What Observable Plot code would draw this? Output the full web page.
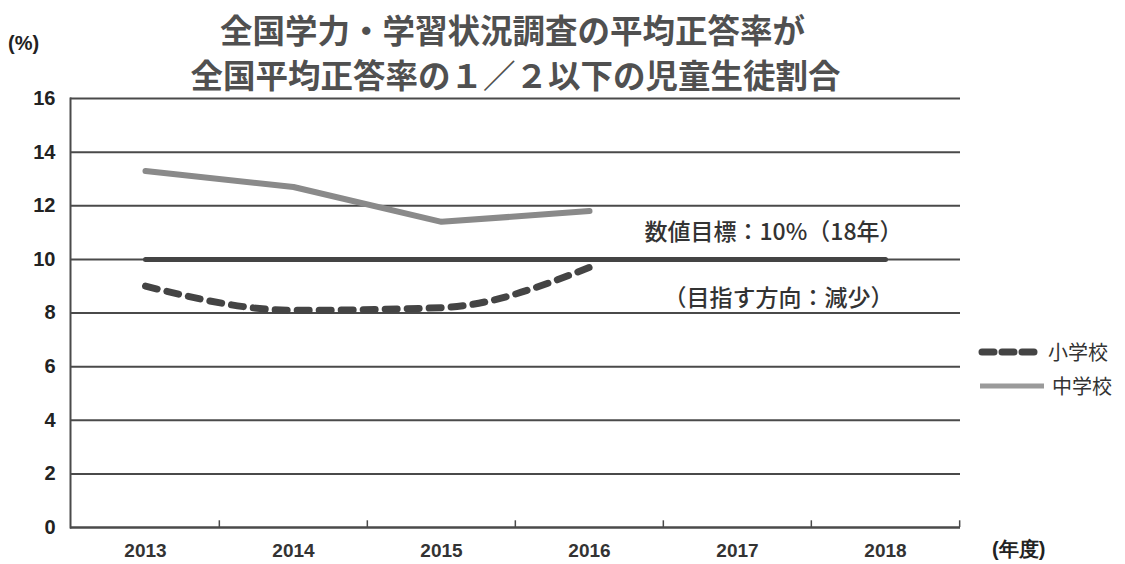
<!DOCTYPE html>
<html><head><meta charset="utf-8">
<script src="https://cdn.jsdelivr.net/npm/d3@7"></script>
<script src="https://cdn.jsdelivr.net/npm/@observablehq/plot@0.6"></script>
<style>
body{margin:0;background:#fff;}
#wrap{position:relative;width:1125px;height:564px;font-family:"Noto Sans CJK JP",sans-serif;}
.lg{position:absolute;left:978px;font-size:20px;color:#333;display:flex;align-items:center;}
.unit{position:absolute;font-family:"Liberation Sans",sans-serif;font-weight:bold;font-size:20px;color:#222;}
g[aria-label="y-axis tick label"] text{font-size:20px !important;}
g[aria-label="x-axis tick label"] text{font-size:19px !important;}
</style></head>
<body><div id="wrap"></div>
<script>
const years = ["2013","2014","2015","2016","2017","2018"];
const yTicks = [0,2,4,6,8,10,12,14,16];
const elemYears = ["2013","2014","2015","2016"];
const elemValues = [9.0, 8.1, 8.2, 9.7];
const juniorYears = ["2013","2014","2015","2016"];
const juniorValues = [13.3, 12.7, 11.4, 11.8];
const targetYears = ["2013","2018"];
const targetValue = 10;
const titleLines = ["全国学力・学習状況調査の平均正答率が","全国平均正答率の１／２以下の児童生徒割合"];
const seriesNames = ["小学校","中学校"];
const noteTarget = "数値目標：10%（18年）";
const noteDirection = "（目指す方向：減少）";
const unitY = "(%)";
const unitX = "(年度)";

const elem = elemYears.map((y,i)=>({year:y, value:elemValues[i]}));
const junior = juniorYears.map((y,i)=>({year:y, value:juniorValues[i]}));
const target = targetYears.map(y=>({year:y, value:targetValue}));

const W=1125, H=564, mL=70, mR=165, mT=98, mB=37;
const step = (W-mL-mR)/years.length;
const numFont = '"Liberation Sans",sans-serif';
const jp = '"Noto Sans CJK JP",sans-serif';

const chart = Plot.plot({
  width: W, height: H,
  marginLeft: mL, marginRight: mR, marginTop: mT, marginBottom: mB,
  style: {fontFamily: numFont, background: "#fff"},
  x: {type: "point", domain: years, padding: 0.5},
  y: {domain: [0,16]},
  marks: [
    Plot.ruleY(yTicks.filter(d=>d>0), {stroke:"#4a4a4a", strokeWidth:2}),
    Plot.ruleY([0], {stroke:"#4a4a4a", strokeWidth:2.5}),
    Plot.frame({anchor:"left", stroke:"#4a4a4a", strokeWidth:2}),
    Plot.ruleX(years.slice(1), {x: d=>d, dx: -step/2, y1: 0, y2: 0.25, stroke:"#4a4a4a", strokeWidth:1.5}),
    Plot.ruleX(["2018"], {x: d=>d, dx: step/2, y1: 0, y2: 0.25, stroke:"#4a4a4a", strokeWidth:1.5}),
    Plot.axisY({ticks: yTicks, tickSize: 0, tickPadding: 15, label: null, fontSize: 20, fontWeight: "bold", fill:"#222"}),
    Plot.axisX({tickSize: 0, tickPadding: 16, label: null, fontSize: 19, fontWeight: "bold", fill:"#333"}),
    Plot.lineY(target, {x:"year", y:"value", stroke:"#444", strokeWidth:5}),
    Plot.lineY(junior, {x:"year", y:"value", stroke:"#8a8a8a", strokeWidth:6}),
    Plot.lineY(elem, {x:"year", y:"value", stroke:"#444", strokeWidth:7, strokeDasharray:"12,10", strokeLinecap:"round", curve:"monotone-x"}),
    Plot.text([noteTarget], {x: ()=>"2017", y: ()=>11.0, dx: 36, fontSize: 23, fontWeight: 500, fontFamily: jp, fill:"#333"}),
    Plot.text([noteDirection], {x: ()=>"2017", y: ()=>8.55, dx: 41, fontSize: 23, fontWeight: 500, fontFamily: jp, fill:"#333"}),
    Plot.text([titleLines[0]], {frameAnchor:"top", dy:-79, dx:-3, fontSize: 32.5, fontFamily: jp, fontWeight:"bold", fill:"#505050"}),
    Plot.text([titleLines[1]], {frameAnchor:"top", dy:-34, dx:0, fontSize: 32.5, fontFamily: jp, fontWeight:"bold", fill:"#505050"})
  ]
});
const wrap = document.getElementById("wrap");
wrap.appendChild(chart);

function addDiv(cls, html, style){ const d=document.createElement("div"); d.className=cls; d.innerHTML=html; Object.assign(d.style, style); wrap.appendChild(d); }
addDiv("unit", unitY, {left:"8px", top:"32px"});
addDiv("unit", unitX, {left:"992px", top:"536px"});
addDiv("lg", `<svg width="62" height="12"><line x1="4" y1="6" x2="58" y2="6" stroke="#444" stroke-width="7" stroke-dasharray="12,8" stroke-linecap="round"/></svg><span style="margin-left:8px">${seriesNames[0]}</span>`, {top:"337px"});
addDiv("lg", `<svg width="68" height="12"><line x1="2" y1="6" x2="66" y2="6" stroke="#9a9a9a" stroke-width="5"/></svg><span style="margin-left:6px">${seriesNames[1]}</span>`, {top:"371px"});
</script></body></html>
